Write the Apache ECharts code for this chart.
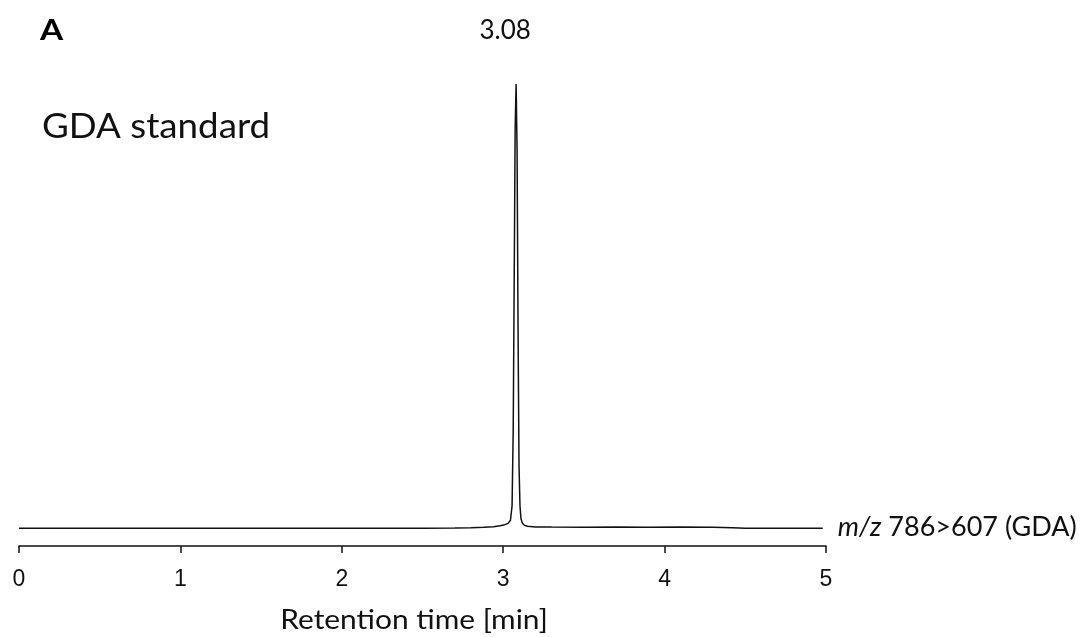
<!DOCTYPE html>
<html>
<head>
<meta charset="utf-8">
<script src="https://cdn.jsdelivr.net/npm/echarts@6/dist/echarts.min.js"></script>
<style>
html,body{margin:0;padding:0;background:#fff;}
#main{width:1092px;height:637px;}
</style>
</head>
<body>
<div id="main"></div>
<script>
// retention time [min] and relative intensity
var times = [0, 0.5, 1, 1.5, 2, 2.5, 2.7, 2.8, 2.88, 2.94, 2.98, 3.01, 3.03, 3.045, 3.055, 3.062, 3.068, 3.074, 3.08, 3.086, 3.092, 3.098, 3.104, 3.11, 3.118, 3.13, 3.15, 3.2, 3.3, 3.5, 3.7, 3.9, 4.1, 4.3, 4.42, 4.5, 4.8, 4.98];
var intens = [0, 0, 0, 0, 0, 0.02, 0.05, 0.1, 0.2, 0.35, 0.55, 0.8, 1.1, 1.8, 5, 22, 55, 90, 100, 85, 45, 14, 5, 2.2, 1.2, 0.7, 0.45, 0.3, 0.25, 0.2, 0.28, 0.22, 0.3, 0.2, 0.1, 0, 0, 0];
var xTicks = [0, 1, 2, 3, 4, 5];
var traceName = ['m/z', ' 786>607 (GDA)'];

var data = [];
for (var i = 0; i < times.length; i++) data.push([times[i], intens[i]]);

// index of the apex
var apexIdx = 0;
for (var k = 1; k < intens.length; k++) if (intens[k] > intens[apexIdx]) apexIdx = k;

var txt = '#111';
var myChart = echarts.init(document.getElementById('main'));
var option = {
    backgroundColor: '#fff',
    animation: false,
    grid: {left: 19, right: 266, top: 84, bottom: 91},
    xAxis: {
        type: 'value',
        min: xTicks[0],
        max: xTicks[xTicks.length - 1],
        interval: 1,
        axisLine: {onZero: false, lineStyle: {color: txt, width: 1.5}},
        axisTick: {length: 7, lineStyle: {color: txt, width: 1.5}},
        axisLabel: {margin: 22, fontFamily: 'Liberation Sans', fontSize: 23, color: txt},
        splitLine: {show: false}
    },
    yAxis: {type: 'value', min: -4, max: 100, show: false},
    graphic: [
        {type: 'text', x: 40, y: 31, scaleX: 1.15,
         style: {text: 'A', fontFamily: 'Lato', fontWeight: 'bold', fontSize: 29, fill: '#000', textAlign: 'left', textVerticalAlign: 'middle'}},
        {type: 'text', x: 42, y: 127, scaleX: 1.08,
         style: {text: 'GDA standard', fontFamily: 'Lato', fontSize: 34, fill: txt, textAlign: 'left', textVerticalAlign: 'middle'}},
        {type: 'text', x: 414, y: 621, scaleX: 1.15,
         style: {text: 'Retention time [min]', fontFamily: 'Lato', fontSize: 26, fill: txt, textAlign: 'center', textVerticalAlign: 'middle'}}
    ],
    series: [{
        type: 'line',
        data: data,
        symbol: 'none',
        lineStyle: {color: txt, width: 1.5},
        endLabel: {
            show: true,
            distance: 15,
            offset: [0, -1],
            formatter: '{i|' + traceName[0] + '}' + traceName[1],
            fontFamily: 'Lato',
            fontSize: 27,
            color: txt,
            rich: {i: {fontStyle: 'italic', fontFamily: 'Lato', fontSize: 27, color: txt}}
        },
        markPoint: {
            symbol: 'circle',
            symbolSize: 1,
            itemStyle: {color: 'rgba(0,0,0,0)'},
            data: [{coord: [times[apexIdx], intens[apexIdx]]}],
            label: {
                show: true,
                position: 'top',
                distance: 40,
                offset: [-11, 0],
                formatter: function () { return times[apexIdx].toFixed(2); },
                fontFamily: 'Lato',
                fontSize: 26,
                color: txt
            }
        }
    }]
};
myChart.setOption(option);
</script>
</body>
</html>
